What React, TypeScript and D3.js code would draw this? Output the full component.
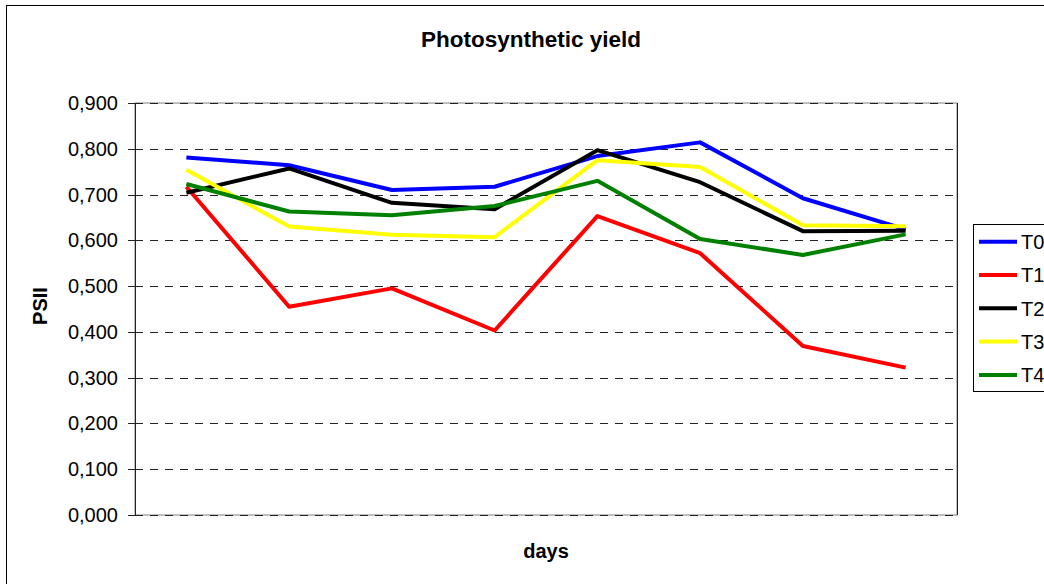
import React from "react";
import * as d3 from "d3";

const days = ["1", "2", "3", "4", "5", "6", "7", "8"];
const seriesNames = ["T0", "T1", "T2", "T3", "T4"];
const seriesColors = ["#0000ff", "#ff0000", "#000000", "#ffff00", "#008000"];
const T0 = [0.781, 0.764, 0.71, 0.717, 0.784, 0.814, 0.692, 0.624];
const T1 = [0.717, 0.455, 0.495, 0.403, 0.653, 0.572, 0.369, 0.322];
const T2 = [0.704, 0.757, 0.682, 0.668, 0.797, 0.727, 0.62, 0.621];
const T3 = [0.754, 0.63, 0.612, 0.607, 0.775, 0.76, 0.633, 0.631];
const T4 = [0.723, 0.663, 0.655, 0.675, 0.73, 0.603, 0.568, 0.613];
const seriesValues = [T0, T1, T2, T3, T4];
const yTicks = [0, 0.1, 0.2, 0.3, 0.4, 0.5, 0.6, 0.7, 0.8, 0.9];

export default function App() {
  const W = 1044, H = 584;
  const left = 135, right = 957, top = 103, bottom = 515;
  const x = d3.scaleBand<string>().domain(days).range([left, right]);
  const y = d3.scaleLinear().domain([0, 0.9]).range([bottom, top]);
  const line = d3
    .line<number>()
    .x((_, i) => (x(days[i]) as number) + x.bandwidth() / 2)
    .y((v) => y(v));
  const fmt = (v: number) => v.toFixed(3).replace(".", ",");
  const font = "Arial, 'Liberation Sans', Helvetica, sans-serif";

  return (
    <svg
      width={W}
      height={H}
      style={{ position: "absolute", left: 0, top: 0, background: "#fff" }}
      fontFamily={font}
    >
      <rect x={6.5} y={5.5} width={W + 10} height={H + 10} fill="#fff" stroke="#000" strokeWidth={1} />
      <text x={531} y={47} textAnchor="middle" fontSize={22.5} fontWeight="bold" fill="#000">
        Photosynthetic yield
      </text>
      {/* plot border */}
      <rect x={left} y={top} width={right - left} height={bottom - top} fill="none" stroke="#808080" strokeWidth={1} />
      {yTicks.map((t) => (
        <g key={t}>
          <line
            x1={left}
            x2={right}
            y1={Math.round(y(t)) + 0.5}
            y2={Math.round(y(t)) + 0.5}
            stroke="#222"
            strokeWidth={1}
            strokeDasharray="8,7"
          />
          <line x1={left - 7} x2={left} y1={Math.round(y(t)) + 0.5} y2={Math.round(y(t)) + 0.5} stroke="#222" />
          <text x={118} y={y(t)} dy="0.35em" textAnchor="end" fontSize={20} fill="#000">
            {fmt(t)}
          </text>
        </g>
      ))}
      <line x1={left + 0.5} x2={left + 0.5} y1={top} y2={bottom} stroke="#222" />
      <line x1={right + 0.5} x2={right + 0.5} y1={top} y2={bottom} stroke="#222" />
      {seriesValues.map((vals, i) => (
        <path key={seriesNames[i]} d={line(vals) || ""} fill="none" stroke={seriesColors[i]} strokeWidth={4} strokeLinejoin="round" />
      ))}
      <text
        transform={`translate(47,306) rotate(-90)`}
        textAnchor="middle"
        fontSize={20}
        fontWeight="bold"
        fill="#000"
      >
        PSII
      </text>
      <text x={546} y={558} textAnchor="middle" fontSize={20} fontWeight="bold" fill="#000">
        days
      </text>
      {/* legend */}
      <rect x={973.5} y={224.5} width={100} height={167} fill="#fff" stroke="#000" strokeWidth={1} />
      {seriesNames.map((n, i) => {
        const ly = 241.7 + i * 33.3;
        return (
          <g key={n}>
            <line x1={979} x2={1017} y1={ly} y2={ly} stroke={seriesColors[i]} strokeWidth={4} />
            <text x={1021} y={ly} dy="0.36em" fontSize={20} fill="#000">
              {n}
            </text>
          </g>
        );
      })}
    </svg>
  );
}
